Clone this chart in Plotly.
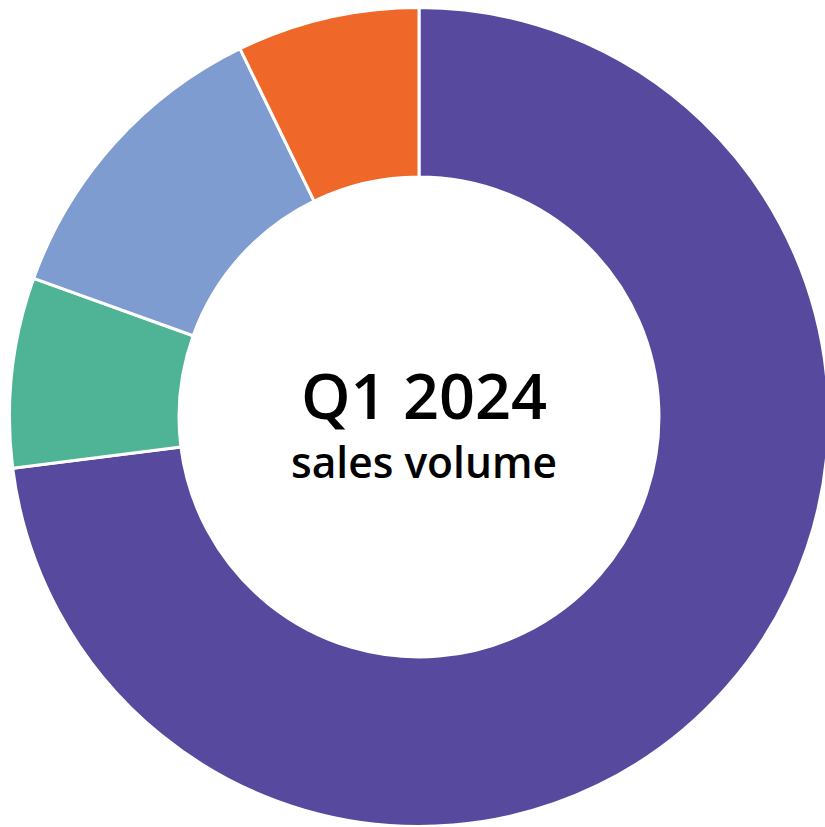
import plotly.graph_objects as go

categories = ["Segment A", "Segment B", "Segment C", "Segment D"]
values = [73.0, 7.5, 12.3, 7.2]
colors = ["#574A9E", "#4FB495", "#7F9CD1", "#EF6829"]
title_main = "Q1 2024"
title_sub = "sales volume"

W, H = 829, 827
cx, cy, r = 419.0, 417.0, 409.5

fig = go.Figure(
    go.Pie(
        labels=categories,
        values=values,
        hole=0.586,
        sort=False,
        direction="clockwise",
        rotation=0,
        textinfo="none",
        marker=dict(colors=colors, line=dict(color="white", width=3)),
        domain=dict(
            x=[(cx - r) / W, (cx + r) / W],
            y=[1 - (cy + r) / H, 1 - (cy - r) / H],
        ),
        showlegend=False,
    )
)

fig.add_annotation(
    text=title_main, x=424 / W, y=1 - 394 / H, xref="paper", yref="paper",
    showarrow=False, xanchor="center", yanchor="middle",
    font=dict(family="Open Sans", size=63, color="#000000", weight=600),
)
fig.add_annotation(
    text=title_sub, x=424 / W, y=1 - 461 / H, xref="paper", yref="paper",
    showarrow=False, xanchor="center", yanchor="middle",
    font=dict(family="Open Sans", size=42.5, color="#000000", weight=600),
)

fig.update_layout(
    width=W, height=H,
    margin=dict(l=0, r=0, t=0, b=0),
    paper_bgcolor="white", plot_bgcolor="white",
)

fig.write_html(
    "out.html",
    config={"displayModeBar": False},
    post_script=(
        "document.body.style.margin='0';"
        "document.body.style.overflow='hidden';"
        "document.documentElement.style.overflow='hidden';"
    ),
)
